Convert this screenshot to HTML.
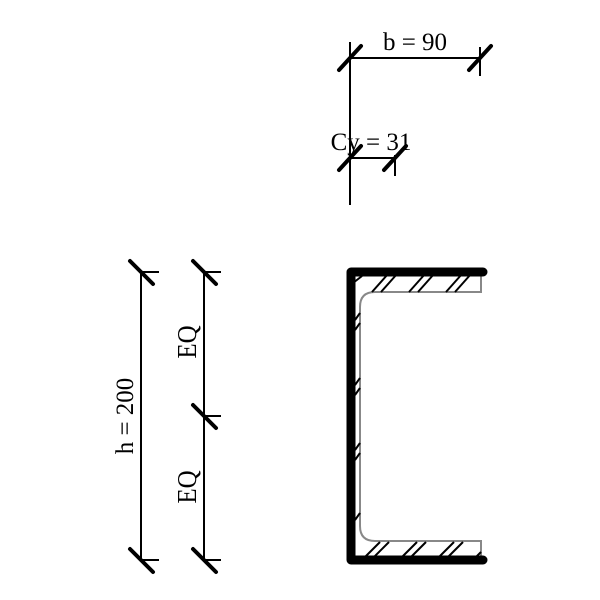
<!DOCTYPE html>
<html><head><style>body{margin:0;background:#fff}svg{display:block}</style></head>
<body>
<svg width="600" height="600" viewBox="0 0 600 600" xmlns="http://www.w3.org/2000/svg" font-family="Liberation Serif, serif">
<g stroke="#000" stroke-width="2" fill="none">
  <line x1="350" y1="42" x2="350" y2="205"/>
  <line x1="350" y1="58" x2="480" y2="58"/>
  <line x1="480" y1="47" x2="480" y2="76"/>
  <line x1="350" y1="158" x2="395" y2="158"/>
  <line x1="395" y1="155" x2="395" y2="176"/>
  <line x1="141" y1="272" x2="141" y2="560"/>
  <line x1="141" y1="272" x2="159" y2="272"/>
  <line x1="141" y1="560" x2="159" y2="560"/>
  <line x1="204" y1="272" x2="204" y2="560"/>
  <line x1="204" y1="272" x2="221" y2="272"/>
  <line x1="204" y1="416" x2="221" y2="416"/>
  <line x1="204" y1="560" x2="221" y2="560"/>
</g>
<g stroke="#000" stroke-width="4" stroke-linecap="round">
  <line x1="339" y1="70" x2="361" y2="46"/>
  <line x1="469" y1="70" x2="491" y2="46"/>
  <line x1="339" y1="170" x2="361" y2="146"/>
  <line x1="384" y1="170" x2="406" y2="146"/>
  <line x1="130" y1="261" x2="153" y2="284"/>
  <line x1="130" y1="549" x2="153" y2="572"/>
  <line x1="193" y1="261" x2="216" y2="284"/>
  <line x1="193" y1="405" x2="216" y2="428"/>
  <line x1="193" y1="549" x2="216" y2="572"/>
</g>
<g font-size="25" fill="#000">
  <text x="415" y="50" text-anchor="middle">b = 90</text>
  <text x="371" y="150" text-anchor="middle">Cy = 31</text>
  <text transform="translate(133,416) rotate(-90)" text-anchor="middle">h = 200</text>
  <text transform="translate(196,342) rotate(-90) scale(1,1.1)" text-anchor="middle">EQ</text>
  <text transform="translate(196,487) rotate(-90) scale(1,1.1)" text-anchor="middle">EQ</text>
</g>
<path d="M481,272 V292 H375 Q360,292 360,307 V526 Q360,541 375,541 H481 V560" stroke="#888" stroke-width="2" fill="none"/>
<g stroke="#000" stroke-width="2">
  <line x1="353" y1="283" x2="362" y2="276"/>
  <line x1="372" y1="292" x2="388" y2="274"/>
  <line x1="381" y1="292" x2="397" y2="274"/>
  <line x1="409" y1="292" x2="425" y2="274"/>
  <line x1="418" y1="292" x2="434" y2="274"/>
  <line x1="446" y1="292" x2="462" y2="274"/>
  <line x1="455" y1="292" x2="471" y2="274"/>
  <line x1="355" y1="320" x2="360" y2="313"/>
  <line x1="355" y1="330" x2="360" y2="323"/>
  <line x1="355" y1="385" x2="360" y2="378"/>
  <line x1="355" y1="395" x2="360" y2="388"/>
  <line x1="355" y1="450" x2="360" y2="443"/>
  <line x1="355" y1="460" x2="360" y2="453"/>
  <line x1="355" y1="520" x2="360" y2="513"/>
  <line x1="364" y1="558" x2="380" y2="542"/>
  <line x1="373" y1="558" x2="389" y2="542"/>
  <line x1="401" y1="558" x2="417" y2="542"/>
  <line x1="410" y1="558" x2="426" y2="542"/>
  <line x1="438" y1="558" x2="454" y2="542"/>
  <line x1="447" y1="558" x2="463" y2="542"/>
  <line x1="475" y1="558" x2="481" y2="552"/>
</g>
<path d="M483,272 H351 V560 H483" stroke="#000" stroke-width="9" fill="none" stroke-linecap="round" stroke-linejoin="round"/>
</svg>
</body></html>
